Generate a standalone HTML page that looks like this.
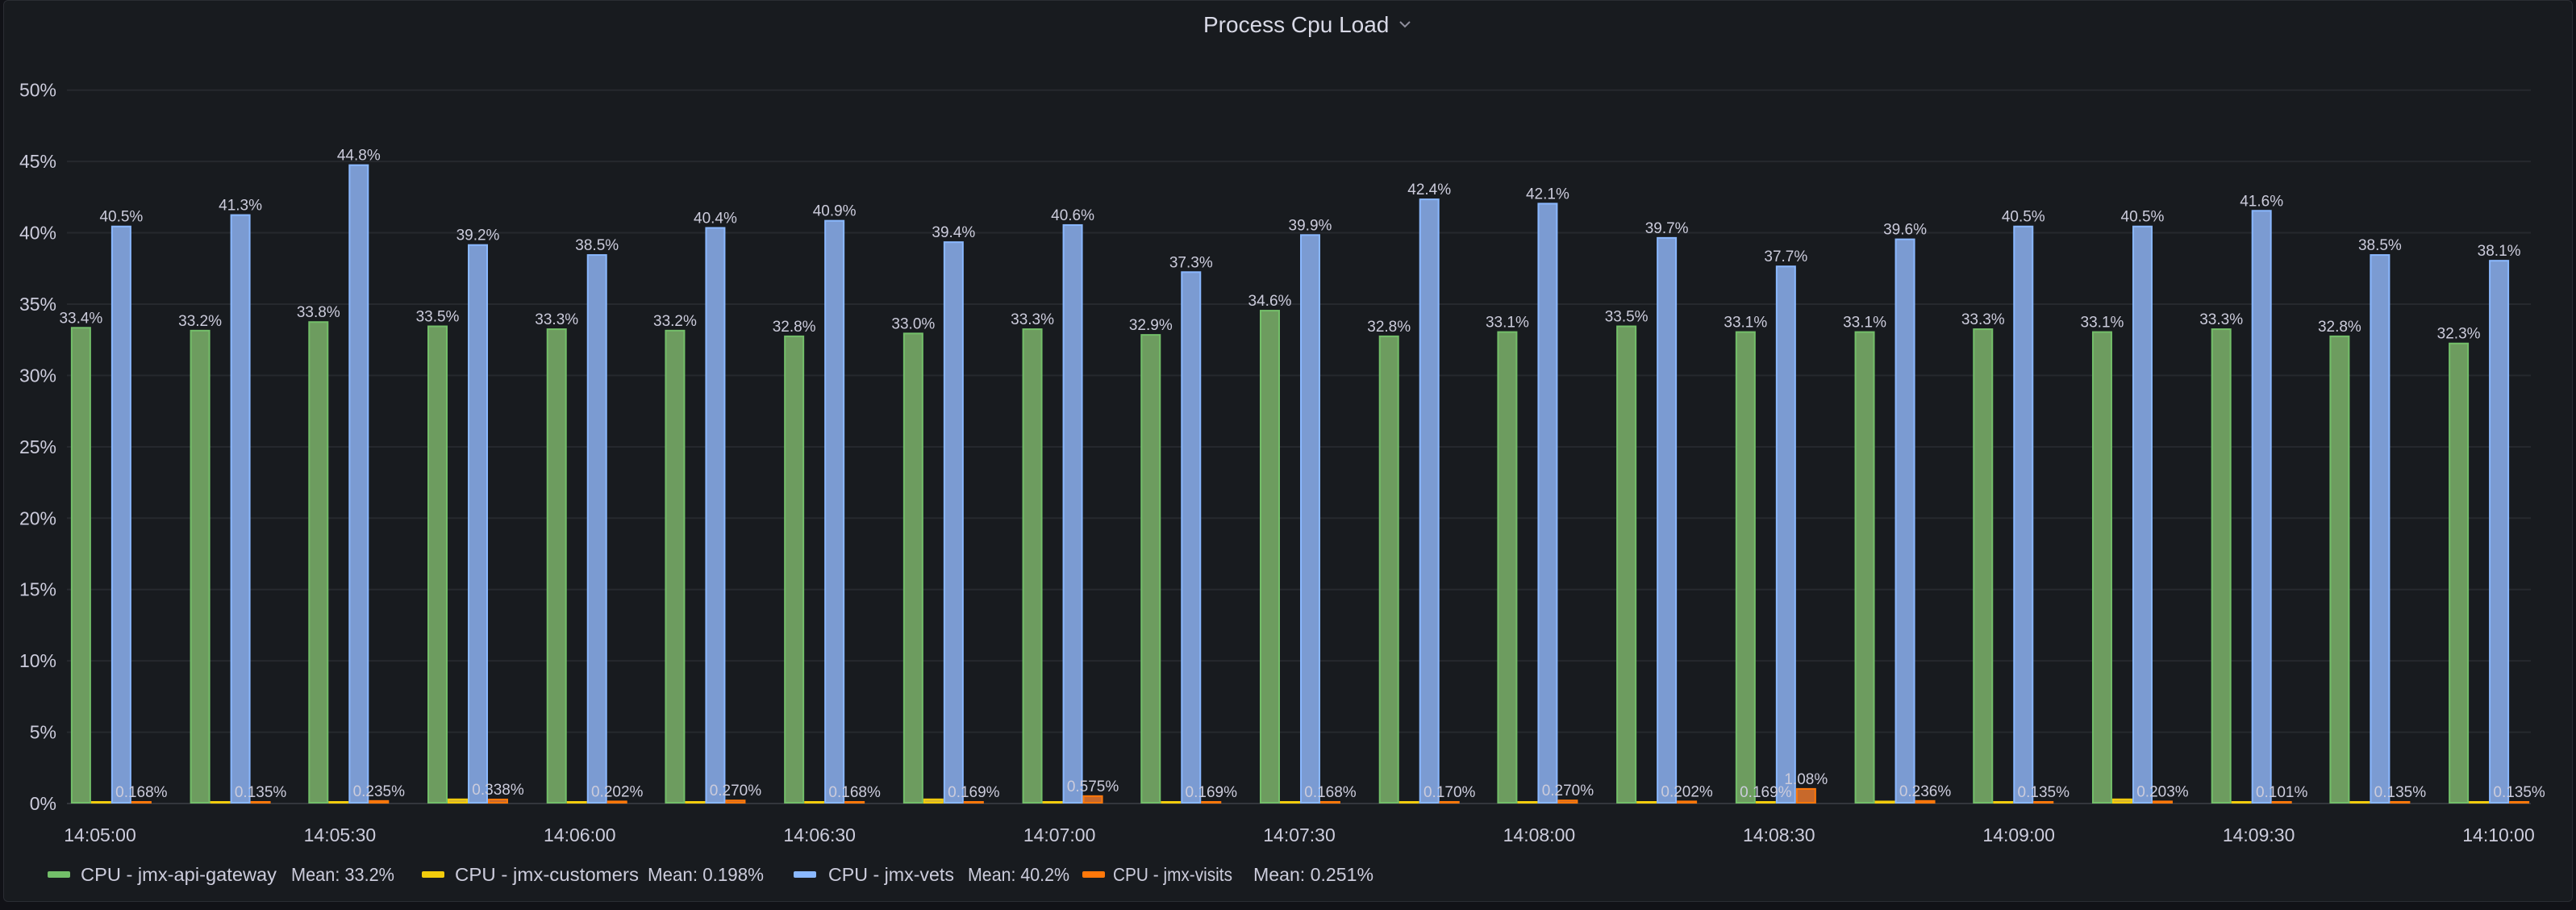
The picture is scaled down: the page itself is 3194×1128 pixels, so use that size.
<!DOCTYPE html>
<html><head><meta charset="utf-8">
<style>
html,body{margin:0;padding:0;background:#111217;}
body{width:3194px;height:1128px;overflow:hidden;font-family:"Liberation Sans",sans-serif;}
#panel{position:absolute;left:4px;top:0;width:3186px;height:1118px;background:#181b1f;border:1px solid #2a2d33;border-radius:6px;box-sizing:border-box;}
svg{position:absolute;left:0;top:0;}
</style></head>
<body>
<div id="panel"></div>
<svg id="chart" width="3194" height="1128">
  <text x="1492" y="40" fill="#d8d9e6" font-size="28">Process Cpu Load</text>
  <path d="M1736 27 l6 6 l6 -6" stroke="#8e8e9c" stroke-width="2" fill="none"/>
  <g id="grid"></g><g id="bars"></g><g id="labels"></g><g id="legend"></g>
</svg>
<script>
const categories = ["g1","g2","g3","g4","g5","g6","g7","g8","g9","g10","g11","g12","g13","g14","g15","g16","g17","g18","g19","g20","g21"];
const times = [1.4,16.3,31.1,46.0,60.9,75.7,90.6,105.5,120.4,135.2,150.1,165.0,179.8,194.7,209.6,224.5,239.3,254.2,269.1,283.9,298.8];
const gateway = [33.4,33.2,33.8,33.5,33.3,33.2,32.8,33.0,33.3,32.9,34.6,32.8,33.1,33.5,33.1,33.1,33.3,33.1,33.3,32.8,32.3];
const customers = [0.10,0.15,0.08,0.35,0.08,0.10,0.15,0.35,0.10,0.15,0.08,0.15,0.12,0.08,0.169,0.20,0.10,0.35,0.08,0.08,0.12];
const vets = [40.5,41.3,44.8,39.2,38.5,40.4,40.9,39.4,40.6,37.3,39.9,42.4,42.1,39.7,37.7,39.6,40.5,40.5,41.6,38.5,38.1];
const visits = [0.168,0.135,0.235,0.338,0.202,0.270,0.168,0.169,0.575,0.169,0.168,0.170,0.270,0.202,1.08,0.236,0.135,0.203,0.101,0.135,0.135];
const customerLabelShown = [0,0,0,0,0,0,0,0,0,0,0,0,0,0,1,0,0,0,0,0,0];
const yTicks = [0,5,10,15,20,25,30,35,40,45,50];
const xTickLabels = ["14:05:00","14:05:30","14:06:00","14:06:30","14:07:00","14:07:30","14:08:00","14:08:30","14:09:00","14:09:30","14:10:00"];
const xTickSeconds = [0,30,60,90,120,150,180,210,240,270,300];
const legendNames = ["CPU - jmx-api-gateway","CPU - jmx-customers","CPU - jmx-vets","CPU - jmx-visits"];
const legendMeans = ["Mean: 33.2%","Mean: 0.198%","Mean: 40.2%","Mean: 0.251%"];

const NS="http://www.w3.org/2000/svg";
const plotL=83, plotR=3138, y0=996, yTop=111.7;
const y = v => y0 - v/50*(y0-yTop);
const x = s => 124 + s*(2974/300);
const BW=25;
function mk(tag, attrs, parent){const e=document.createElementNS(NS,tag);for(const k in attrs)e.setAttribute(k,attrs[k]);parent.appendChild(e);return e;}
const grid=document.getElementById('grid'), bars=document.getElementById('bars'), labels=document.getElementById('labels'), legend=document.getElementById('legend');

yTicks.forEach(t=>{
  const l=mk('line',{x1:plotL,x2:plotR,y1:y(t),y2:y(t),stroke:t===0?'#33363c':'#26292e','stroke-width':2},grid);
  
  
  const tx=mk('text',{x:70,y:y(t)+8,'text-anchor':'end',fill:'#ccccdc','font-size':23},grid);
  tx.textContent=t+'%';
  
  
});
xTickLabels.forEach((lab,i)=>{
  const tx=mk('text',{x:x(xTickSeconds[i]),y:1043,'text-anchor':'middle',fill:'#ccccdc','font-size':23},grid);
  tx.textContent=lab;
  
  
});

const series=[
  {vals:gateway,fill:'#6d9c5f',stroke:'#73bf69',name:'bar-api-gateway'},
  {vals:customers,fill:'#d9b72a',stroke:'#f2cc0c',name:'bar-customers'},
  {vals:vets,fill:'#7b9bd2',stroke:'#8ab8ff',name:'bar-vets'},
  {vals:visits,fill:'#c8692b',stroke:'#ff780a',name:'bar-visits'}
];
categories.forEach((c,i)=>{
  const cx=x(times[i]);
  series.forEach((s,k)=>{
    const v=s.vals[i];
    const bx=cx-2*BW+k*BW;
    const top=y(v), h=Math.max(y0-top,3);
    const r=mk('rect',{x:bx+1,y:y0-h+1,width:BW-2,height:Math.max(h-2,1),fill:s.fill,stroke:s.stroke,'stroke-width':2},bars);
    
    
    let show = k!==1 || customerLabelShown[i];
    if(show){
      const t=mk('text',{x:bx+BW/2,y:y0-h-5,'text-anchor':'middle',fill:'#ccccdc','font-size':19},labels);
      t.textContent = k===3||k===1 ? (v>=1? v.toFixed(2).replace(/0$/,'')+'%' : v.toFixed(3)+'%') : v.toFixed(1)+'%';
      
      
    }
  });
});

const legSwatchX=[59,523,984,1342];
const legNameX=[100,564,1027,1380], legNameW=[243,228,156,148];
const legMeanX=[361,803,1200,1554], legMeanW=[128,144,126,149];
legendNames.forEach((n,i)=>{
  const g=mk('g',{},legend);
  
  
  const sw=mk('rect',{x:legSwatchX[i],y:1080,width:28,height:8,rx:2,fill:series[i].stroke},g);
  
  
  const t=mk('text',{x:legNameX[i],y:1092,fill:'#ccccdc','font-size':23,textLength:legNameW[i],lengthAdjust:'spacingAndGlyphs'},g);
  t.textContent=n;
  
  
  const m=mk('text',{x:legMeanX[i],y:1092,fill:'#ccccdc','font-size':23,textLength:legMeanW[i],lengthAdjust:'spacingAndGlyphs'},g);
  m.textContent=legendMeans[i];
  
  
});
</script>
</body></html>
